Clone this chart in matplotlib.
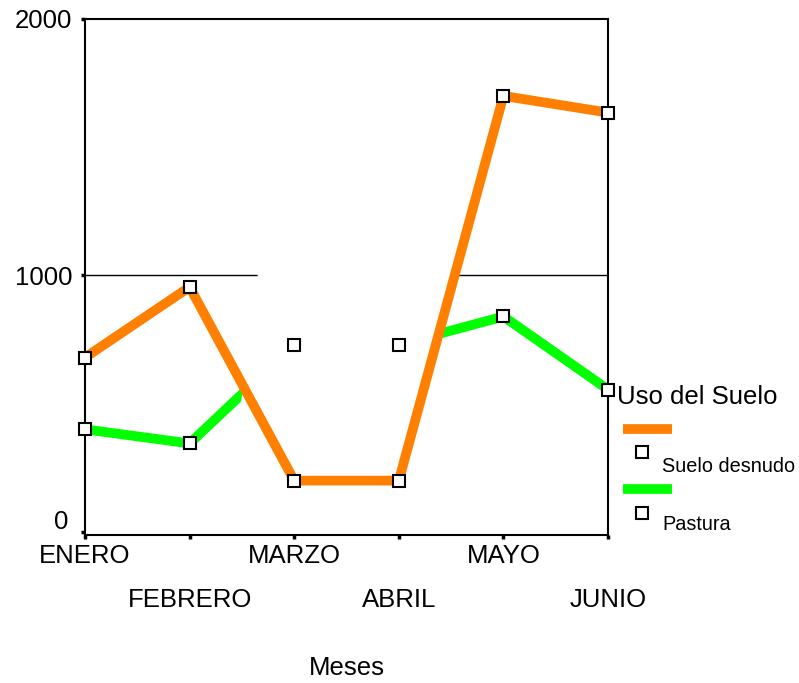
import matplotlib
matplotlib.use("Agg")
import matplotlib.pyplot as plt
import matplotlib.transforms as mtransforms
from matplotlib.patches import Polygon
from matplotlib.lines import Line2D

plt.rcParams['font.family'] = ['Liberation Sans', 'DejaVu Sans']

meses = ["ENERO", "FEBRERO", "MARZO", "ABRIL", "MAYO", "JUNIO"]
suelo_desnudo = [680, 955, 200, 200, 1700, 1635]
pastura = [400, 345, 730, 730, 840, 555]
y_ticks = [0, 1000, 2000]

naranja = "#ff8000"
verde = "#00ff00"

fig = plt.figure(figsize=(7.99, 6.83), dpi=100)
ax = fig.add_axes([0.1064, 0.2167, 0.6546, 0.7555])

x = list(range(len(meses)))

ax.axhline(1000, color="black", lw=1.0, zorder=1)
ax.plot(x, pastura, color=verde, lw=7, solid_capstyle="butt", zorder=2)
# white block painted over the middle of the plot area
ax.add_patch(Polygon([(1.66, 1030), (3.57, 1030), (3.20, 436), (1.47, 436)],
                     closed=True, facecolor="white", edgecolor="none", zorder=3))
ax.plot(x, suelo_desnudo, color=naranja, lw=7, solid_capstyle="butt", zorder=4)

for serie in (suelo_desnudo, pastura):
    ax.plot(x, serie, ls="none", marker="s", ms=9, mfc="white", mec="black",
            mew=1.5, zorder=5, clip_on=False)

ax.set_xlim(0, len(meses) - 1)
ax.set_ylim(-12, 2000)

ax.set_yticks(y_ticks)
ax.set_yticklabels([str(v) for v in y_ticks], fontsize=18.5)
ax.set_xticks(x)
ax.set_xticklabels([])
ax.tick_params(axis="both", length=3, width=2.5, direction="out", pad=6)
for s in ax.spines.values():
    s.set_linewidth(1.5)

# lift the "0" label clear of the month names
etiqueta_cero = ax.get_yticklabels()[0]
etiqueta_cero.set_transform(etiqueta_cero.get_transform() +
                            mtransforms.ScaledTranslation(-0.04, 0.12, fig.dpi_scale_trans))

# staggered month labels
for i, mes in enumerate(meses):
    dy = -21 if i % 2 == 0 else -65
    ax.annotate(mes, xy=(i, 0), xycoords=("data", "axes fraction"),
                xytext=(0, dy * 0.72), textcoords="offset points",
                ha="center", va="center", fontsize=18.5)

ax.annotate("Meses", xy=(0.5, 0), xycoords="axes fraction",
            xytext=(0, -133 * 0.72), textcoords="offset points",
            ha="center", va="center", fontsize=18.5)

# legend built by hand
W, H = 799, 683
fig.text(617 / W, 1 - 397 / H, "Uso del Suelo", fontsize=18.5, ha="left", va="center")
for color, nombre, y_linea, y_marca, y_texto in [
        (naranja, "Suelo desnudo", 429, 452, 466),
        (verde, "Pastura", 489, 513, 524)]:
    fig.add_artist(Line2D([623 / W, 672 / W], [1 - y_linea / H] * 2,
                          color=color, lw=7, solid_capstyle="butt"))
    fig.add_artist(Line2D([642 / W], [1 - y_marca / H], ls="none", marker="s",
                          ms=8, mfc="white", mec="black", mew=1.5))
    fig.text(662 / W, 1 - y_texto / H, nombre, fontsize=14.3, ha="left", va="center")

fig.savefig("out.png", dpi=100)
